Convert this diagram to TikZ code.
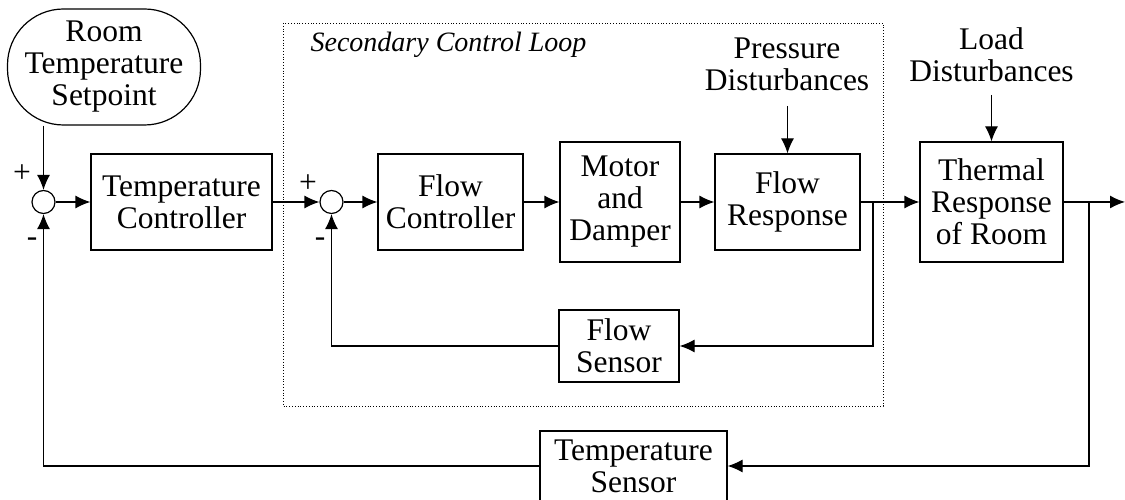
\documentclass[tikz,border=0pt]{standalone}
\usepackage{fontspec}
\setmainfont{Liberation Serif}
\usetikzlibrary{arrows.meta}

\begin{document}
\begin{tikzpicture}[x=1pt,y=1pt,>={Latex[length=15pt,width=13pt]},line width=1.2pt,
  font=\fontsize{31.5}{32}\selectfont,
  blk/.style={draw,align=center,inner sep=0pt},
  sumnode/.style={draw,circle,minimum size=23pt,inner sep=0pt},
  lbl/.style={align=center,inner sep=0pt}]
\useasboundingbox (0,0) rectangle (1125,500);
% secondary loop frame
\draw[dotted,line width=0.8pt] (283,477) rectangle (883,94);
\node[anchor=base west,inner sep=0pt,font=\fontsize{28}{32}\selectfont\itshape] (title) at (310,448) {Secondary Control Loop};
% blocks
\node[blk,rounded corners=56pt,minimum width=193pt,minimum height=116pt] (sp) at (104,433) {Room\\Temperature\\Setpoint};
\node[sumnode] (s1) at (43.5,298) {};
\node[blk,minimum width=181pt,minimum height=96pt] (tc) at (181.5,298) {Temperature\\Controller};
\node[sumnode] (s2) at (331.5,298) {};
\node[blk,minimum width=145pt,minimum height=96pt] (fc) at (450.5,298) {Flow\\Controller};
\node[blk,minimum width=120pt,minimum height=120pt] (md) at (620,298) {Motor\\and\\Damper};
\node[blk,minimum width=145pt,minimum height=96pt] (fr) at (787.5,298) {Flow\\Response};
\node[blk,minimum width=143pt,minimum height=120pt] (tr) at (991.5,298) {Thermal\\Response\\of Room};
\node[blk,minimum width=120pt,minimum height=72pt] (fs) at (619,154) {Flow\\Sensor};
\node[blk,minimum width=187pt,minimum height=70pt] (ts) at (633.5,34) {Temperature\\Sensor};
\node[lbl,anchor=south] (pd) at (787,409) {Pressure\\Disturbances};
\node[lbl,anchor=south] (ld) at (991.5,418) {Load\\Disturbances};
% signs
\node[lbl] (p1) at (22,326) {+}; \node[lbl] (m1) at (32,258) {-};
\node[lbl] (p2) at (308,316) {+}; \node[lbl] (m2) at (320,258) {-};
% connectors
\coordinate (b1) at (873,298); \coordinate (b2) at (1089,298); \coordinate (out) at (1125,298);
\coordinate (pdin) at (787.5,394); \coordinate (ldin) at (991.5,405);
\draw[->] (s1 |- sp.south) -- (s1.north);
\draw[->] (s1) -- (tc); \draw[->] (tc) -- (s2); \draw[->] (s2) -- (fc);
\draw[->] (fc) -- (md); \draw[->] (md) -- (fr); \draw[->] (fr) -- (tr); \draw[->] (tr) -- (out);
\draw[->] (b1) |- (fs.east); \draw[->] (fs.west) -| (s2.south);
\draw[->] (b2) |- (ts.east); \draw[->] (ts.west) -| (s1.south);
\draw[->] (pdin) -- (fr.north); \draw[->] (ldin) -- (tr.north);
\end{tikzpicture}
\end{document}
